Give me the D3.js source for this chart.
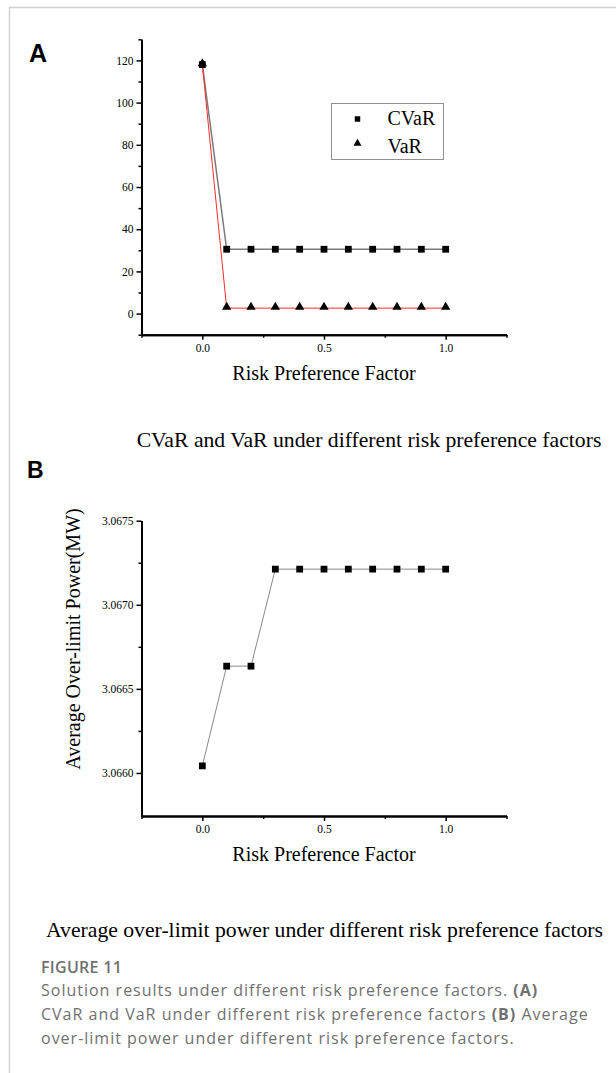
<!DOCTYPE html>
<html>
<head>
<meta charset="utf-8">
<script src="https://cdn.jsdelivr.net/npm/d3@7"></script>
<style>
  body { margin: 0; background: #fff; }
  svg { display: block; }
</style>
</head>
<body>
<div class="d3-content"></div>
<script>
// data
const factors = [0, 0.1, 0.2, 0.3, 0.4, 0.5, 0.6, 0.7, 0.8, 0.9, 1.0];
const cvarValues = [118, 30.5, 30.5, 30.5, 30.5, 30.5, 30.5, 30.5, 30.5, 30.5, 30.5];
const varValues = [118, 2.6, 2.6, 2.6, 2.6, 2.6, 2.6, 2.6, 2.6, 2.6, 2.6];
const powerValues = [3.066042, 3.066635, 3.066635, 3.067212, 3.067212, 3.067212, 3.067212, 3.067212, 3.067212, 3.067212, 3.067212];

const xTicks = [0, 0.5, 1.0];
const xMinorTicks = [-0.25, 0.25, 0.75, 1.25];
const yTicksA = [0, 20, 40, 60, 80, 100, 120];
const yMinorTicksA = [-10, 10, 30, 50, 70, 90, 110, 130];
const yTicksB = [3.0660, 3.0665, 3.0670, 3.0675];
const yMinorTicksB = [3.06625, 3.06675, 3.06725];

const legendLabels = ['CVaR', 'VaR'];

/************************/
/*      Dimensions      */
/************************/
const width = 616;
const height = 1073;
const plotLeft = 141.5;
const plotRight = 506.5;

/**********************/
/*       Colors       */
/**********************/
const black = '#000';
const cvarLine = '#7a7a7a';
const varLine = '#ff2a2a';
const powerLine = '#888';
const captionGray = '#707070';
const borderGray = '#d0d0d0';

const serif = "'Liberation Serif', 'Times New Roman', serif";
const sans = "'Liberation Sans', Arial, sans-serif";
const captionFont = "'Open Sans', 'Noto Sans', sans-serif";

const svg = d3.select('.d3-content')
  .append('svg')
    .attr('width', width)
    .attr('height', height);

// page frame
svg.append('path')
  .attr('d', `M9.5,${height} V7.5 H${width}`)
  .attr('fill', 'none')
  .attr('stroke', borderGray)
  .attr('stroke-width', 1.5);

const square = d3.symbol().type(d3.symbolSquare).size(46);
const triangle = d3.symbol().type(d3.symbolTriangle).size(38);

// draws one panel: axes, minor ticks, axis titles
const drawAxes = (g, xScale, yScale, opts) => {
  const bottomAxis = d3.axisBottom(xScale)
    .tickValues(xTicks)
    .tickFormat(d3.format('.1f'))
    .tickSizeInner(5)
    .tickSizeOuter(0)
    .tickPadding(4);
  const xAxis = g.append('g')
    .attr('transform', `translate(0, ${opts.bottom})`)
    .call(bottomAxis);
  xAxis.append('g')
    .call(d3.axisBottom(xScale).tickValues(xMinorTicks).tickFormat('').tickSizeInner(3).tickSizeOuter(0));

  const leftAxis = d3.axisLeft(yScale)
    .tickValues(opts.yTicks)
    .tickFormat(opts.yFormat)
    .tickSizeInner(5)
    .tickSizeOuter(0)
    .tickPadding(3);
  const yAxis = g.append('g')
    .attr('transform', `translate(${plotLeft}, 0)`)
    .call(leftAxis);
  yAxis.append('g')
    .call(d3.axisLeft(yScale).tickValues(opts.yMinor).tickFormat('').tickSizeInner(3).tickSizeOuter(0));

  [xAxis, yAxis].forEach(ax => {
    ax.selectAll('path.domain').attr('stroke', black).attr('stroke-width', 2);
    ax.selectAll('.tick line').attr('stroke', black).attr('stroke-width', 1.5);
    ax.selectAll('text')
      .attr('font-family', serif)
      .attr('font-size', 11.5)
      .attr('fill', black);
  });

  g.append('text')
    .text('Risk Preference Factor')
    .attr('x', xScale(0.5))
    .attr('y', opts.bottom + 45)
    .attr('text-anchor', 'middle')
    .attr('font-family', serif)
    .attr('font-size', 20);
};

/*******************************/
/*          Panel A            */
/*******************************/
const gA = svg.append('g');
const xA = d3.scaleLinear().domain([-0.25, 1.25]).range([plotLeft, plotRight]);
const yA = d3.scaleLinear().domain([-10, 130]).range([334.7, 39.3]);

gA.append('text')
  .text('A')
  .attr('x', 29)
  .attr('y', 62)
  .attr('font-family', sans)
  .attr('font-weight', 'bold')
  .attr('font-size', 25);

drawAxes(gA, xA, yA, {
  bottom: 334.7,
  yTicks: yTicksA,
  yMinor: yMinorTicksA,
  yFormat: d3.format('d')
});

const lineA = d3.line()
  .x((d, i) => xA(factors[i]))
  .y(d => yA(d));

gA.append('path')
  .datum(cvarValues)
  .attr('d', lineA)
  .attr('fill', 'none')
  .attr('stroke', cvarLine)
  .attr('stroke-width', 1.5);
gA.append('path')
  .datum(varValues)
  .attr('d', lineA)
  .attr('fill', 'none')
  .attr('stroke', varLine)
  .attr('stroke-width', 1);

gA.selectAll('.cvar')
  .data(cvarValues)
  .join('path')
    .attr('class', 'cvar')
    .attr('d', square)
    .attr('transform', (d, i) => `translate(${xA(factors[i])}, ${yA(d)})`)
    .attr('fill', black);
gA.selectAll('.var')
  .data(varValues)
  .join('path')
    .attr('class', 'var')
    .attr('d', triangle)
    .attr('transform', (d, i) => `translate(${xA(factors[i])}, ${yA(d) - 1})`)
    .attr('fill', black);

// legend
const legend = gA.append('g').attr('transform', 'translate(331.5, 103.5)');
legend.append('rect')
  .attr('width', 112)
  .attr('height', 56)
  .attr('fill', '#fff')
  .attr('stroke', '#909090')
  .attr('stroke-width', 1);
legendLabels.forEach((label, i) => {
  legend.append('path')
    .attr('d', i === 0 ? d3.symbol().type(d3.symbolSquare).size(30)() : d3.symbol().type(d3.symbolTriangle).size(28)())
    .attr('transform', `translate(26, ${15.5 + i * 24.5})`)
    .attr('fill', black);
  legend.append('text')
    .text(label)
    .attr('x', 56)
    .attr('y', 21.5 + i * 27.5)
    .attr('font-family', serif)
    .attr('font-size', 20);
});

svg.append('text')
  .text('CVaR and VaR under different risk preference factors')
  .attr('x', 369)
  .attr('y', 447)
  .attr('text-anchor', 'middle')
  .attr('font-family', serif)
  .attr('font-size', 21.7);

/*******************************/
/*          Panel B            */
/*******************************/
const gB = svg.append('g');
const xB = d3.scaleLinear().domain([-0.25, 1.25]).range([plotLeft, plotRight]);
const yB = d3.scaleLinear().domain([3.065744, 3.0675]).range([816, 520.7]);

gB.append('text')
  .text('B')
  .attr('x', 27)
  .attr('y', 477.5)
  .attr('font-family', sans)
  .attr('font-weight', 'bold')
  .attr('font-size', 23);

drawAxes(gB, xB, yB, {
  bottom: 816,
  yTicks: yTicksB,
  yMinor: yMinorTicksB,
  yFormat: d3.format('.4f')
});

gB.append('text')
  .text('Average Over-limit Power(MW)')
  .attr('transform', 'translate(80, 639) rotate(-90)')
  .attr('text-anchor', 'middle')
  .attr('font-family', serif)
  .attr('font-size', 20);

const lineB = d3.line()
  .x((d, i) => xB(factors[i]))
  .y(d => yB(d));

gB.append('path')
  .datum(powerValues)
  .attr('d', lineB)
  .attr('fill', 'none')
  .attr('stroke', powerLine)
  .attr('stroke-width', 1);

gB.selectAll('.power')
  .data(powerValues)
  .join('path')
    .attr('class', 'power')
    .attr('d', square)
    .attr('transform', (d, i) => `translate(${xB(factors[i])}, ${yB(d)})`)
    .attr('fill', black);

svg.append('text')
  .text('Average over-limit power under different risk preference factors')
  .attr('x', 324.5)
  .attr('y', 937)
  .attr('text-anchor', 'middle')
  .attr('font-family', serif)
  .attr('font-size', 21.7);

/*******************************/
/*          Caption            */
/*******************************/
const caption = svg.append('g')
  .attr('font-family', captionFont)
  .attr('fill', captionGray)
  .attr('letter-spacing', 1.0);

caption.append('text')
  .text('FIGURE 11')
  .attr('x', 41)
  .attr('y', 973)
  .attr('font-size', 16)
  .attr('letter-spacing', 0.3)
  .attr('font-weight', 600);

const captionLines = [
  [['Solution results under different risk preference factors. ', 400], ['(A)', 700]],
  [['CVaR and VaR under different risk preference factors ', 400], ['(B)', 700], [' Average', 400]],
  [['over-limit power under different risk preference factors.', 400]]
];
captionLines.forEach((parts, i) => {
  const t = caption.append('text')
    .attr('x', 41)
    .attr('y', 996 + i * 24)
    .attr('font-size', 16);
  parts.forEach(([s, w]) => {
    t.append('tspan').text(s).attr('font-weight', w);
  });
});
</script>
</body>
</html>
